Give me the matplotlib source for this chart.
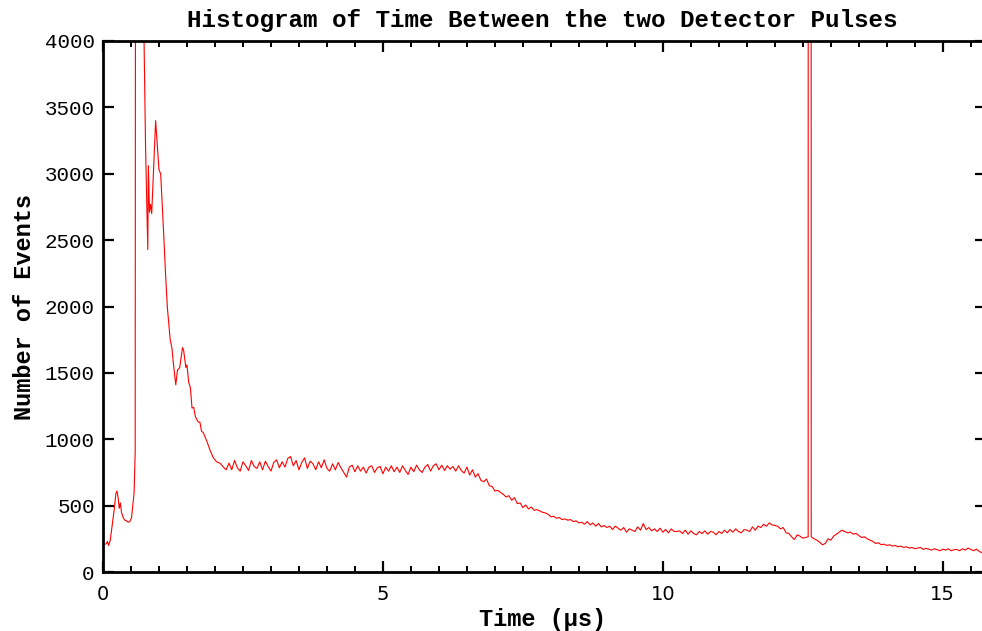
import numpy as np
import matplotlib
matplotlib.use('Agg')
import matplotlib.pyplot as plt

# early part of the histogram (big peak region)
t_early = [0.05, 0.08, 0.10, 0.13, 0.16, 0.20, 0.23, 0.25, 0.27, 0.29,
           0.31, 0.33, 0.36, 0.39, 0.42, 0.45, 0.48, 0.51, 0.53, 0.555,
           0.575, 0.60, 0.71, 0.73, 0.76, 0.80, 0.81, 0.83, 0.85, 0.87,
           0.94, 0.97, 1.00, 1.03, 1.08, 1.12, 1.15, 1.20, 1.23, 1.26,
           1.30, 1.33, 1.37, 1.42, 1.44, 1.48, 1.50, 1.53, 1.56, 1.59,
           1.62, 1.65, 1.70, 1.73, 1.76, 1.79, 1.85, 1.91, 1.97, 2.03,
           2.09, 2.15, 2.20]
n_early = [210, 230, 200, 240, 340, 470, 590, 610, 560, 480,
           520, 450, 410, 390, 385, 375, 380, 410, 490, 595,
           900, 20000, 12000, 4100, 3200, 2430, 3060, 2710, 2770, 2700,
           3400, 3220, 3030, 3000, 2580, 2220, 1990, 1750, 1690, 1560,
           1410, 1520, 1540, 1690, 1670, 1540, 1560, 1430, 1390, 1235,
           1240, 1170, 1130, 1130, 1060, 1050, 990, 920, 860, 830,
           820, 790, 770]

# rest of the histogram, bins of 0.05 us from 2.25 to 15.70
bin_w = 0.05
t_main = np.round(np.arange(2.25, 15.70 + 1e-6, bin_w), 2)
n_main = [
    820, 770, 840, 785, 760, 830, 800, 765, 840, 795,
    780, 830, 770, 835, 795, 760, 825, 845, 785, 830,
    790, 855, 870, 800, 840, 770, 825, 860, 780, 835,
    815, 770, 830, 785, 845, 780, 760, 815, 770, 825,
    785, 750, 715, 790, 805, 755, 800, 760, 790, 745,
    790, 800, 750, 785, 795, 740, 790, 760, 800, 755,
    790, 750, 800, 765, 735, 790, 755, 805, 770, 750,
    790, 810, 760, 800, 815, 770, 805, 765, 800, 775,
    795, 760, 800, 765, 745, 790, 730, 770, 715, 740,
    690, 680, 700, 650, 645, 610, 615, 600, 585, 565,
    575, 540, 560, 515, 520, 485, 505, 475, 490, 465,
    470, 460, 450, 445, 435, 415, 420, 405, 410, 395,
    400, 390, 395, 380, 385, 370, 375, 360, 380, 355,
    370, 345, 365, 340, 350, 335, 345, 320, 345, 330,
    315, 335, 300, 325, 315, 305, 340, 315, 365, 320,
    335, 310, 325, 305, 330, 300, 320, 295, 325, 305,
    305, 310, 290, 315, 285, 310, 290, 280, 305, 290,
    310, 285, 305, 300, 280, 305, 290, 315, 295, 320,
    300, 325, 305, 295, 320, 315, 305, 340, 315, 345,
    335, 360, 345, 370, 355, 350, 345, 325, 335, 295,
    290, 265, 245, 280, 270, 255, 260, 30000, 265, 250,
    240, 225, 205, 215, 250, 240, 270, 285, 300, 315,
    305, 295, 300, 285, 290, 275, 260, 265, 250, 240,
    230, 215, 220, 205, 210, 200, 205, 195, 200, 190,
    195, 185, 190, 180, 185, 175, 180, 185, 170, 178,
    172, 165, 175, 168, 160, 172, 165, 175, 160, 168,
    170, 160, 175, 165, 180, 170, 160, 172, 155, 145,
]

# narrow spike edges near 12.6 us
t_spike = [12.595, 12.64]
n_spike = [265, 30000]

t = np.concatenate([t_early, t_main, t_spike])
n = np.concatenate([n_early, n_main, n_spike])
order = np.argsort(t)
t = t[order]
n = n[order]

plt.rcParams['font.family'] = ['Liberation Mono', 'DejaVu Sans']

fig = plt.figure(figsize=(9.82, 6.31), dpi=100)
ax = fig.add_axes([103/982, 1 - 572/631, 1 - 103/982, (572 - 41)/631])

ax.plot(t, n, color='red', lw=0.8)

ax.set_xlim(0, 15.7)
ax.set_ylim(0, 4000)
ax.set_xticks([0, 5, 10, 15])
ax.set_xticks(np.arange(0, 15.8, 0.5), minor=True)
ax.set_yticks(np.arange(0, 4001, 500))

for s in ['left', 'bottom', 'top']:
    ax.spines[s].set_linewidth(2)
ax.spines['right'].set_visible(False)

ax.tick_params(which='major', direction='in', length=8, width=1.6,
               top=True, right=False)
ax.tick_params(which='minor', direction='in', length=4, width=1.4,
               top=True, right=False)
ax.tick_params(axis='y', which='major', right=True)
ax.tick_params(axis='x', labelsize=14, pad=9)
ax.tick_params(axis='y', labelsize=15, pad=6)
for lab in ax.get_xticklabels():
    lab.set_family('DejaVu Sans')
# short ticks on the right edge
for tl in ax.yaxis.get_major_ticks():
    tl.tick2line.set_markersize(5)

ax.set_title('Histogram of Time Between the two Detector Pulses',
             fontsize=17.5, fontweight='bold', pad=10)
ax.set_xlabel('Time (\u03bcs)', fontsize=17, fontweight='bold', labelpad=3)
ax.set_ylabel('Number of Events', fontsize=17, fontweight='bold', labelpad=6)

fig.savefig('out.png', dpi=100)
